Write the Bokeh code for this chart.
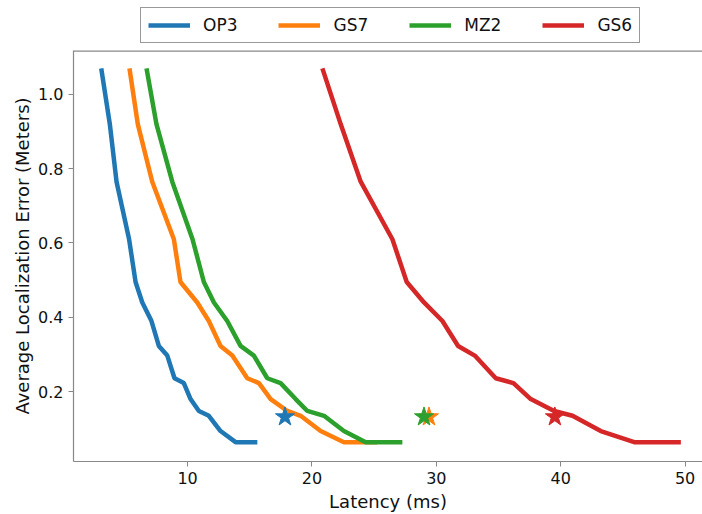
from bokeh.plotting import figure
from bokeh.layouts import column
from bokeh.models import Legend, LegendItem, FixedTicker, Range1d, Span, NumeralTickFormatter
from bokeh.embed import file_html
from bokeh.resources import INLINE

# Shared error levels (meters)
error_levels = [1.07, 0.92, 0.765, 0.61, 0.495, 0.44, 0.39, 0.323, 0.297, 0.236, 0.223,
                0.18, 0.148, 0.135, 0.094, 0.064, 0.064]

# Latency (ms) per device for each error level
op3_latency = [3.06, 3.75, 4.29, 5.30, 5.82, 6.36, 7.10, 7.69, 8.37, 8.95, 9.70,
               10.24, 10.91, 11.71, 12.65, 13.86, 15.61]
gs7_latency = [5.33, 6.00, 7.16, 8.90, 9.43, 10.78, 11.71, 12.65, 13.60, 14.80, 15.74,
               16.68, 18.02, 19.09, 20.70, 22.57, 25.26]
mz2_latency = [6.70, 7.50, 8.77, 10.40, 11.31, 12.12, 13.19, 14.26, 15.33, 16.41, 17.48,
               18.69, 19.63, 20.97, 22.57, 24.32, 27.27]
gs6_latency = [20.84, 22.31, 23.92, 26.47, 27.62, 29.01, 30.49, 31.75, 33.09, 34.78, 36.20,
               37.59, 39.47, 40.95, 43.22, 45.91, 49.66]

devices = ["OP3", "GS7", "MZ2", "GS6"]
colors = ["#1f77b4", "#ff7f0e", "#2ca02c", "#d62728"]

# Star markers (single operating points)
star_latency = [17.83, 29.41, 29.01, 39.53]
star_error = [0.132, 0.132, 0.132, 0.132]
star_order = [0, 1, 2, 3]

x_ticks = [10, 20, 30, 40, 50]
y_ticks = [0.2, 0.4, 0.6, 0.8, 1.0]
x_lo, x_hi = 0.83, 51.4
y_lo, y_hi = 0.012, 1.118

FONT = "DejaVu Sans"
LW = 4.5
series = [op3_latency, gs7_latency, mz2_latency, gs6_latency]

# ---------- legend strip (separate small figure above the plot) ----------
# Its ranges lie outside the data, so the proxy lines are clipped away and
# only the legend is visible.
leg_fig = figure(width=702, height=50, output_backend="svg", toolbar_location=None,
                 x_range=Range1d(-2, -1), y_range=Range1d(-2, -1),
                 x_axis_location=None, y_axis_location=None)
leg_fig.min_border_left = 0
leg_fig.min_border_right = 0
leg_fig.min_border_top = 0
leg_fig.min_border_bottom = 0
leg_fig.outline_line_color = None
leg_fig.xgrid.visible = False
leg_fig.ygrid.visible = False
leg_fig.border_fill_color = "white"
leg_fig.background_fill_color = "white"

leg_items = []
for name, lat, c in zip(devices, series, colors):
    r = leg_fig.line(lat, error_levels, line_color=c, line_width=LW)
    leg_items.append(LegendItem(label=name, renderers=[r]))

legend = Legend(items=leg_items, orientation="horizontal", location=(67, 7))
legend.label_text_font = FONT
legend.label_text_font_size = "17px"
legend.label_text_color = "#111111"
legend.glyph_width = 42
legend.glyph_height = 20
legend.label_standoff = 13
legend.spacing = 41
legend.padding = 7
legend.margin = 0
legend.border_line_color = "#333333"
legend.border_line_width = 1.3
leg_fig.add_layout(legend, "center")

# ---------- main plot ----------
p = figure(width=702, height=464, output_backend="svg", toolbar_location=None,
           x_range=Range1d(x_lo, x_hi), y_range=Range1d(y_lo, y_hi))
p.min_border_left = 73
p.min_border_right = 0
p.min_border_bottom = 51
p.min_border_top = 0
p.outline_line_color = None
p.xgrid.visible = False
p.ygrid.visible = False
p.background_fill_color = "white"
p.border_fill_color = "white"

for ax in [p.xaxis[0], p.yaxis[0]]:
    ax.axis_line_color = "#888888"
    ax.axis_line_width = 1.2
    ax.major_tick_line_color = "#888888"
    ax.major_tick_out = 5
    ax.major_tick_in = 0
    ax.minor_tick_line_color = None
    ax.major_label_text_font = FONT
    ax.major_label_text_font_size = "16px"
    ax.major_label_text_color = "#111111"
    ax.axis_label_text_font = FONT
    ax.axis_label_text_font_size = "18px"
    ax.axis_label_text_font_style = "normal"
    ax.axis_label_text_color = "#111111"

p.xaxis[0].ticker = FixedTicker(ticks=x_ticks)
p.yaxis[0].ticker = FixedTicker(ticks=y_ticks)
p.yaxis[0].formatter = NumeralTickFormatter(format="0.0")
p.xaxis[0].axis_label = "Latency (ms)"
p.yaxis[0].axis_label = "Average Localization Error (Meters)"
p.xaxis[0].axis_label_standoff = 4
p.yaxis[0].axis_label_standoff = 2

# top frame line
p.add_layout(Span(location=y_hi, dimension="width", line_color="#888888", line_width=2.4))

for name, lat, c in zip(devices, series, colors):
    p.line(lat, error_levels, line_color=c, line_width=LW)

for i in star_order:
    p.scatter([star_latency[i]], [star_error[i]], marker="star", size=20,
              fill_color=colors[i], line_color=colors[i])

layout = column(leg_fig, p, spacing=0)
open("out.html", "w").write(file_html(layout, INLINE))
